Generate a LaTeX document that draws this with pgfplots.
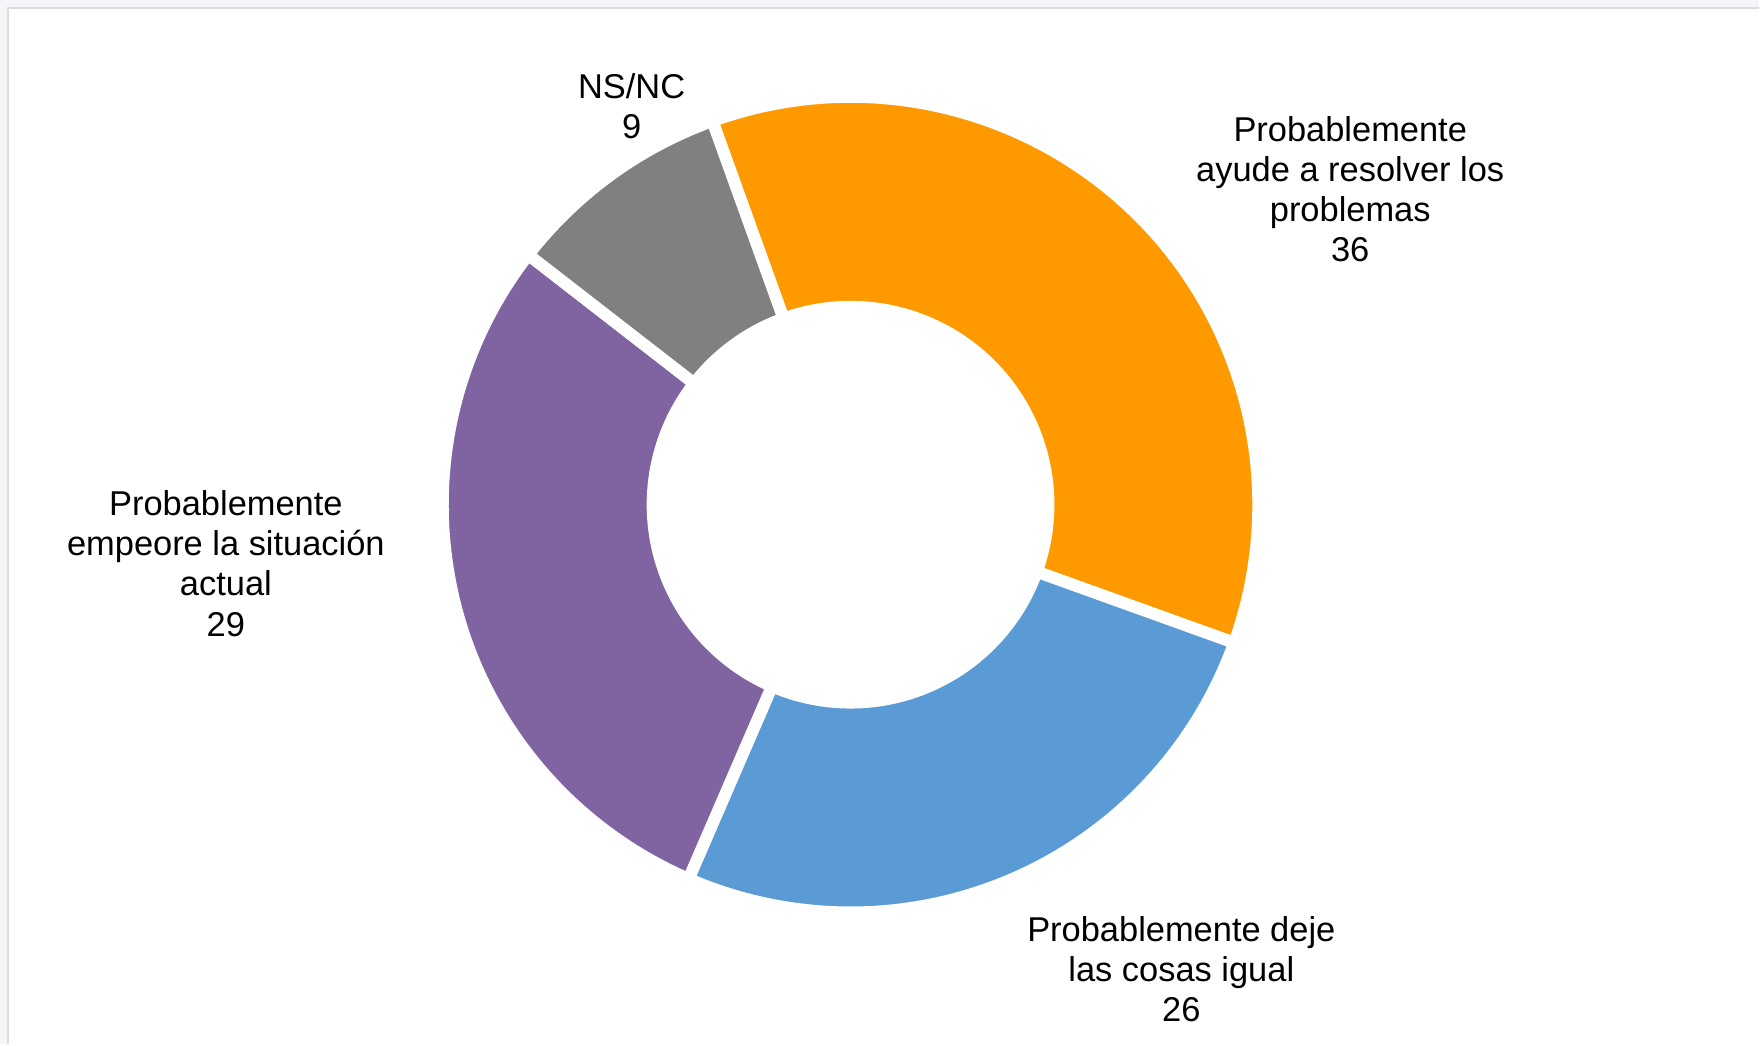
\documentclass[border=0pt]{standalone}
\usepackage{pgfplots}
\usepackage{pgfplotstable}
\usepackage{fontspec}
\setmainfont{Liberation Sans}
\pgfplotsset{compat=1.18}

\definecolor{cOrange}{HTML}{FF9900}
\definecolor{cBlue}{HTML}{5B9BD5}
\definecolor{cPurple}{HTML}{8064A2}
\definecolor{cGray}{HTML}{808080}
\definecolor{pageBg}{HTML}{F5F6FA}
\definecolor{frameLine}{HTML}{DCDCDC}

% share of each answer, clockwise from the top
\pgfplotstableread[col sep=comma]{
value,col
36,cOrange
26,cBlue
29,cPurple
9,cGray
}\shares

\begin{document}
\begin{tikzpicture}
\begin{axis}[
  x=1cm, y=1cm,
  disabledatascaling,
  scale only axis,
  hide axis,
  clip=false,
  xmin=0, xmax=17.6,
  ymin=0, ymax=10.45,
]
% page background and frame
\fill[pageBg] (axis cs:0,0) rectangle (axis cs:17.6,10.45);
\fill[white] (axis cs:0.09,0) rectangle (axis cs:17.6,10.36);
\draw[frameLine, line width=0.02cm] (axis cs:0.08,0) -- (axis cs:0.08,10.37) -- (axis cs:17.6,10.37);

\def\cx{8.51}
\def\cy{5.40}
\def\Ro{4.08}
\def\Ri{1.98}
\def\angA{109.8}
\pgfplotsforeachungrouped \i in {0,...,3}{
  \pgfplotstablegetelem{\i}{value}\of{\shares}\let\val\pgfplotsretval
  \pgfplotstablegetelem{\i}{col}\of{\shares}\let\col\pgfplotsretval
  \pgfmathsetmacro{\angB}{\angA-3.6*\val}
  \pgfmathsetmacro{\xa}{\cx+\Ro*cos(\angA)}
  \pgfmathsetmacro{\ya}{\cy+\Ro*sin(\angA)}
  \pgfmathsetmacro{\xb}{\cx+\Ri*cos(\angB)}
  \pgfmathsetmacro{\yb}{\cy+\Ri*sin(\angB)}
  \edef\temp{\noexpand\fill[\col, draw=white, line width=3.4pt]
    (axis cs:\xa,\ya) arc[start angle=\angA, end angle=\angB, radius=\Ro cm]
    -- (axis cs:\xb,\yb) arc[start angle=\angB, end angle=\angA, radius=\Ri cm] -- cycle;}
  \temp
  \let\angA\angB
}

\tikzset{lbl/.style={align=center, inner sep=0pt, font=\fontsize{9.8}{11.4}\selectfont}}
\node[lbl] at (axis cs:6.32,9.385) {NS/NC\\9};
\node[lbl] at (axis cs:13.51,8.555) {Probablemente\\ayude a resolver los\\problemas\\36};
\node[lbl] at (axis cs:11.82,0.75) {Probablemente deje\\las cosas igual\\26};
\node[lbl] at (axis cs:2.26,4.81) {Probablemente\\empeore la situación\\actual\\29};
\end{axis}
\end{tikzpicture}
\end{document}
